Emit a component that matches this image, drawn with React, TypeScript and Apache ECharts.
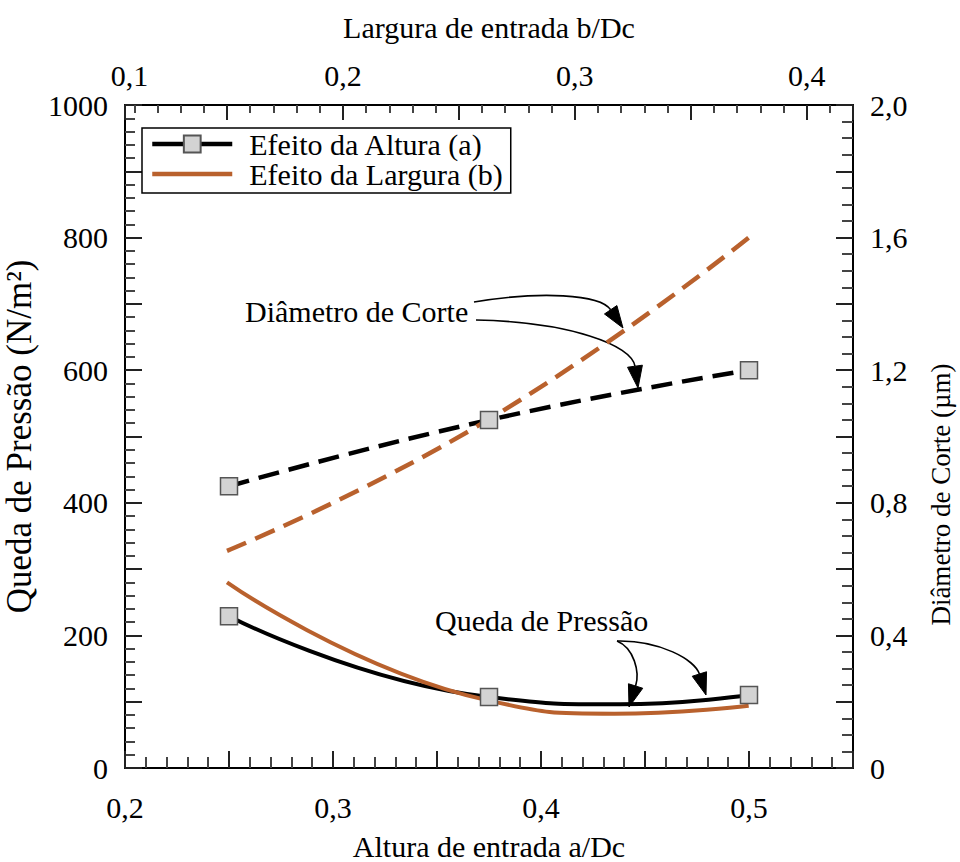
import React, { useEffect, useRef } from 'react';
import * as echarts from 'echarts';

// a/Dc (bottom axis) for the "Efeito da Altura (a)" series
const heightRatio = [0.25, 0.375, 0.5];
const pressureHeightCurveX = [0.25, 0.375, 0.438, 0.5];
const pressureHeight = [229, 107, 96, 110];
const diameterHeight = [0.85, 1.05, 1.2];

// b/Dc (top axis) for the "Efeito da Largura (b)" series
const widthRatio = [0.15, 0.2625, 0.375];
const pressureWidthX = [0.15, 0.2625, 0.317, 0.375];
const pressureWidth = [280, 102, 82, 94];
const diameterWidth = [0.655, 1.05, 1.6];

// tick labels
const bottomLabels = [0.2, 0.3, 0.4, 0.5];
const topLabels = [0.2, 0.3, 0.4];
const leftLabels = [0, 200, 400, 600, 800, 1000];
const rightLabels = [0, 0.4, 0.8, 1.2, 1.6, 2.0];

const SERIES_A = 'Efeito da Altura (a)';
const SERIES_B = 'Efeito da Largura (b)';

const TOP_MIN = 0.106;
const TOP_MAX = 0.42;

const FONT = '"Liberation Serif", "Times New Roman", Times, serif';
const ORANGE = '#b9612d';

const near = (v: number, list: number[]) => list.some((x) => Math.abs(x - v) < 1e-6);
const comma = (v: number) => v.toFixed(1).replace('.', ',');

function arrow(x0: number, y0: number, c1x: number, c1y: number, c2x: number, c2y: number, tx: number, ty: number) {
  const dx = tx - c2x;
  const dy = ty - c2y;
  const len = Math.hypot(dx, dy);
  const ux = dx / len;
  const uy = dy / len;
  const L = 22;
  const W = 7.5;
  const bx = tx - ux * L;
  const by = ty - uy * L;
  return [
    {
      type: 'bezierCurve',
      shape: { x1: x0, y1: y0, x2: bx, y2: by, cpx1: c1x, cpy1: c1y, cpx2: c2x, cpy2: c2y },
      style: { stroke: '#000', lineWidth: 1.6, fill: null },
      silent: true,
    },
    {
      type: 'polygon',
      shape: { points: [[tx, ty], [bx - uy * W, by + ux * W], [bx + uy * W, by - ux * W]] },
      style: { fill: '#000', stroke: '#000', lineWidth: 1 },
      silent: true,
    },
  ];
}

export default function App() {
  const ref = useRef<HTMLDivElement>(null);
  useEffect(() => {
    if (!ref.current) return;
    const chart = echarts.init(ref.current, null, { renderer: 'svg' });

    const tick = (len: number) => ({ show: true, inside: true, interval: 0, length: len, lineStyle: { color: '#222', width: 2 } });
    const minor = (n: number, len: number) => ({ show: true, splitNumber: n, length: len, lineStyle: { color: '#444', width: 2 } });
    const labelBase = { fontSize: 30, color: '#000', fontFamily: FONT };
    const axisLine = () => ({ show: true, onZero: false, lineStyle: { color: '#000', width: 2 } });

    const option: any = {
      animation: false,
      backgroundColor: '#fff',
      textStyle: { fontFamily: FONT },
      grid: { left: 125, right: 107, top: 105, bottom: 94, containLabel: false, outerBoundsMode: 'none' },
      legend: {
        orient: 'vertical',
        left: 142,
        top: 128,
        padding: [1, 8, 4, 8],
        itemWidth: 80,
        itemHeight: 21,
        itemGap: 0,
        borderColor: '#000',
        borderWidth: 1.5,
        backgroundColor: '#fff',
        lineStyle: { width: 4.5 },
        textStyle: { fontSize: 30, color: '#000', fontFamily: FONT, padding: [0, 0, 0, 12] },
        data: [
          { name: SERIES_A },
          { name: SERIES_B, itemStyle: { opacity: 0, color: 'rgba(0,0,0,0)', borderWidth: 0 } },
        ],
      },
      xAxis: [
        {
          type: 'value',
          position: 'bottom',
          min: 0.2,
          max: 0.55,
          interval: 0.05,
          name: 'Altura de entrada a/Dc',
          nameLocation: 'middle',
          nameGap: 65,
          nameTextStyle: { fontSize: 30, lineHeight: 26, color: '#000', fontFamily: FONT },
          axisLine: axisLine(),
          axisTick: tick(17),
          minorTick: minor(5, 11),
          splitLine: { show: false },
          axisLabel: {
            ...labelBase,
            margin: 24,
            formatter: (v: number) => (near(v, bottomLabels) ? comma(v) : ''),
          },
        },
        {
          type: 'value',
          position: 'top',
          min: TOP_MIN,
          max: TOP_MAX,
          minInterval: 0.05,
          maxInterval: 0.05,
          name: 'Largura de entrada b/Dc',
          nameLocation: 'middle',
          nameGap: 63,
          nameTextStyle: { fontSize: 30, color: '#000', fontFamily: FONT },
          axisLine: axisLine(),
          axisTick: tick(15),
          minorTick: minor(5, 8),
          splitLine: { show: false },
          axisLabel: {
            ...labelBase,
            margin: 15,
            showMinLabel: true,
            showMaxLabel: true,
            rich: { s: { ...labelBase, padding: [0, 0, 0, 9] } },
            formatter: (v: number) => {
              if (Math.abs(v - TOP_MIN) < 1e-6) return '{s|0,1}';
              return near(v, topLabels) ? comma(v) : '';
            },
          },
        },
      ],
      yAxis: [
        {
          type: 'value',
          position: 'left',
          min: 0,
          max: 1000,
          interval: 100,
          name: 'Queda de Pressão (N/m²)',
          nameLocation: 'middle',
          nameGap: 80,
          nameTextStyle: { fontSize: 35, color: '#000', fontFamily: FONT },
          axisLine: axisLine(),
          axisTick: tick(17),
          minorTick: minor(5, 10),
          splitLine: { show: false },
          axisLabel: {
            ...labelBase,
            margin: 17,
            formatter: (v: number) => (near(v, leftLabels) ? String(Math.round(v)) : ''),
          },
        },
        {
          type: 'value',
          position: 'right',
          min: 0,
          max: 2,
          interval: 0.2,
          name: 'Diâmetro de Corte (µm)',
          nameLocation: 'middle',
          nameGap: 74,
          nameRotate: 90,
          nameTextStyle: { fontSize: 27, color: '#000', fontFamily: FONT, padding: [0, 116, 0, 0] },
          axisLine: axisLine(),
          axisTick: tick(17),
          minorTick: minor(4, 11),
          splitLine: { show: false },
          axisLabel: {
            ...labelBase,
            margin: 17,
            formatter: (v: number) => (near(v, rightLabels) ? (Math.abs(v) < 1e-9 ? '0' : comma(v)) : ''),
          },
        },
      ],
      series: [
        {
          name: SERIES_A,
          type: 'line',
          xAxisIndex: 0,
          yAxisIndex: 0,
          smooth: true,
          data: pressureHeightCurveX.map((x, i) =>
            near(x, heightRatio) ? [x, pressureHeight[i]] : { value: [x, pressureHeight[i]], symbol: 'none' }
          ),
          symbol: 'rect',
          symbolSize: 17,
          itemStyle: { color: '#d3d3d3', borderColor: '#555', borderWidth: 1.5 },
          lineStyle: { color: '#000', width: 4 },
        },
        {
          name: SERIES_A,
          type: 'line',
          xAxisIndex: 0,
          yAxisIndex: 1,
          smooth: true,
          data: heightRatio.map((x, i) => [x, diameterHeight[i]]),
          symbol: 'rect',
          symbolSize: 17,
          itemStyle: { color: '#d3d3d3', borderColor: '#555', borderWidth: 1.5 },
          lineStyle: { color: '#000', width: 4.5, type: [21, 10] },
        },
        {
          name: SERIES_B,
          type: 'line',
          xAxisIndex: 1,
          yAxisIndex: 0,
          smooth: true,
          data: pressureWidthX.map((x, i) => [x, pressureWidth[i]]),
          symbol: 'none',
          itemStyle: { color: ORANGE },
          lineStyle: { color: ORANGE, width: 4 },
        },
        {
          name: SERIES_B,
          type: 'line',
          xAxisIndex: 1,
          yAxisIndex: 1,
          smooth: true,
          data: widthRatio.map((x, i) => [x, diameterWidth[i]]),
          symbol: 'none',
          itemStyle: { color: ORANGE },
          lineStyle: { color: ORANGE, width: 4.5, type: [21, 10] },
        },
      ],
      graphic: [
        {
          type: 'text',
          x: 245,
          y: 311,
          silent: true,
          style: { text: 'Diâmetro de Corte', fontSize: 30, fontFamily: FONT, fill: '#000', align: 'left', verticalAlign: 'middle' },
        },
        {
          type: 'text',
          x: 435,
          y: 620,
          silent: true,
          style: { text: 'Queda de Pressão', fontSize: 30, fontFamily: FONT, fill: '#000', align: 'left', verticalAlign: 'middle' },
        },
        ...arrow(474, 302, 540, 291, 600, 294, 623, 328),
        ...arrow(476, 320, 570, 322, 632, 345, 638, 388),
        ...arrow(617, 641, 634, 648, 640, 672, 629, 707),
        ...arrow(617, 641, 660, 640, 695, 660, 706, 695),
      ],
    };

    chart.setOption(option);
    return () => chart.dispose();
  }, []);

  return (
    <div
      ref={ref}
      style={{ position: 'fixed', left: 0, top: 0, width: 960, height: 862, background: '#fff' }}
    />
  );
}
